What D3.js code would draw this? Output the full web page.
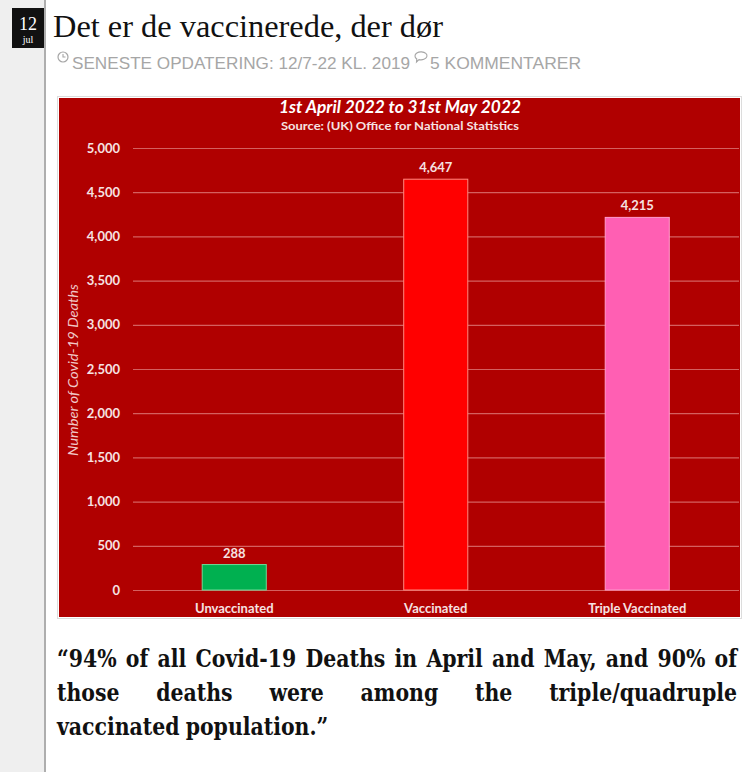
<!DOCTYPE html>
<html><head><meta charset="utf-8">
<script src="https://cdn.jsdelivr.net/npm/d3@7/dist/d3.min.js"></script>
<style>
html,body{margin:0;padding:0;background:#fff;}
svg{display:block;}
</style></head>
<body>
<svg id="page" width="750" height="772"></svg>
<script>
// ---- data ----
const categories = ["Unvaccinated", "Vaccinated", "Triple Vaccinated"];
const deaths = [288, 4647, 4215];
const yTicks = [0, 500, 1000, 1500, 2000, 2500, 3000, 3500, 4000, 4500, 5000];
const chartTitle = "1st April 2022 to 31st May 2022";
const chartSubtitle = "Source: (UK) Office for National Statistics";
const yLabel = "Number of Covid-19 Deaths";
const postDay = "12", postMonth = "jul";
const postTitle = "Det er de vaccinerede, der dør";
const metaUpdate = "SENESTE OPDATERING: 12/7-22 KL. 2019";
const metaComments = "5 KOMMENTARER";
const quoteLines = [
  "“94% of all Covid-19 Deaths in April and May, and 90% of",
  "those deaths were among the triple/quadruple",
  "vaccinated population.”"
];

const svg = d3.select("#page");

// ---- page frame ----
svg.append("rect").attr("x",0).attr("y",0).attr("width",44).attr("height",772).attr("fill","#efefef");
svg.append("line").attr("x1",45).attr("x2",45).attr("y1",0).attr("y2",772).attr("stroke","#9a9a9a").attr("stroke-width",1.6);
svg.append("rect").attr("x",12).attr("y",8).attr("width",32).attr("height",40).attr("fill","#111");
svg.append("text").attr("x",28).attr("y",30).attr("text-anchor","middle")
  .attr("font-family","Liberation Serif, serif").attr("font-size",18).attr("fill","#fff").text(postDay);
svg.append("text").attr("x",28).attr("y",43).attr("text-anchor","middle")
  .attr("font-family","Liberation Serif, serif").attr("font-size",10).attr("fill","#fff").text(postMonth);

svg.append("text").attr("x",53).attr("y",37)
  .attr("font-family","Liberation Serif, Times New Roman, serif").attr("font-size",32).attr("fill","#111")
  .attr("textLength",390).attr("lengthAdjust","spacingAndGlyphs").text(postTitle);

// meta line
const metaCol = "#a6a6a6";
const clock = svg.append("g").attr("transform","translate(63,57)");
clock.append("circle").attr("r",5).attr("fill","none").attr("stroke",metaCol).attr("stroke-width",1.2);
clock.append("path").attr("d","M0,-3V0H2.5").attr("fill","none").attr("stroke",metaCol).attr("stroke-width",1.1);
svg.append("text").attr("x",72).attr("y",69)
  .attr("font-family","Liberation Sans Narrow, Arial Narrow, Liberation Sans, sans-serif").attr("font-size",17)
  .attr("fill",metaCol).attr("textLength",338).attr("lengthAdjust","spacingAndGlyphs").text(metaUpdate);
svg.append("path").attr("transform","translate(421,56)")
  .attr("d","M-6,0a6,4 0 1,1 4,3.6l-2.5,2.4l0.3,-3A6,4 0 0,1 -6,0Z")
  .attr("fill","none").attr("stroke",metaCol).attr("stroke-width",1.1);
svg.append("text").attr("x",430).attr("y",69)
  .attr("font-family","Liberation Sans Narrow, Arial Narrow, Liberation Sans, sans-serif").attr("font-size",17)
  .attr("fill",metaCol).attr("textLength",151).attr("lengthAdjust","spacingAndGlyphs").text(metaComments);

// ---- chart ----
svg.append("rect").attr("x",57.5).attr("y",96.5).attr("width",684).attr("height",522)
  .attr("fill","#fff").attr("stroke","#dcdcdc");
svg.append("rect").attr("x",59).attr("y",98).attr("width",681).attr("height",519).attr("fill","#b00000");

const txtCol = "#f6e2e2";
const chartFont = "Lato, Open Sans, sans-serif";

const x = d3.scaleBand().domain(categories).range([133.5, 738]).paddingInner(0.682).paddingOuter(0.341);
const y = d3.scaleLinear().domain([0, 5000]).range([590, 148]);

const yAxis = svg.append("g").attr("transform","translate(133,0)")
  .call(d3.axisLeft(y).tickValues(yTicks).tickFormat(d3.format(",")).tickSize(-606).tickPadding(13));
yAxis.select(".domain").remove();
yAxis.selectAll(".tick line").attr("stroke","#d4605f").attr("stroke-width",1.2);
yAxis.selectAll(".tick text").attr("fill",txtCol).attr("font-family",chartFont)
  .attr("font-weight","bold").attr("font-size",13);

const barFill = d3.scaleOrdinal().domain(categories).range(["#00b050","#ff0000","#ff5fb3"]);
const barStroke = d3.scaleOrdinal().domain(categories).range(["#6fd896","#ff8a80","#ff9ccf"]);

const bars = svg.append("g");
bars.selectAll("rect").data(categories).join("rect")
  .attr("x", d => x(d)).attr("width", x.bandwidth())
  .attr("y", (d,i) => y(deaths[i])).attr("height", (d,i) => y(0) - y(deaths[i]))
  .attr("fill", d => barFill(d)).attr("stroke", d => barStroke(d)).attr("stroke-width",1);

bars.selectAll("text.val").data(categories).join("text").attr("class","val")
  .attr("x", d => x(d) + x.bandwidth()/2).attr("y", (d,i) => y(deaths[i]) - 7)
  .attr("text-anchor","middle").attr("fill",txtCol).attr("font-family",chartFont)
  .attr("font-weight","bold").attr("font-size",13)
  .text((d,i) => d3.format(",")(deaths[i]));

svg.append("g").selectAll("text").data(categories).join("text")
  .attr("x", d => x(d) + x.bandwidth()/2).attr("y", 613)
  .attr("text-anchor","middle").attr("fill",txtCol).attr("font-family",chartFont)
  .attr("font-weight","bold").attr("font-size",13).text(d => d);

svg.append("text").attr("x",400).attr("y",113).attr("text-anchor","middle")
  .attr("fill","#fff").attr("font-family",chartFont).attr("font-weight","bold").attr("font-style","italic")
  .attr("font-size",16.5).attr("textLength",242).attr("lengthAdjust","spacingAndGlyphs").text(chartTitle);
svg.append("text").attr("x",400).attr("y",130).attr("text-anchor","middle")
  .attr("fill",txtCol).attr("font-family",chartFont).attr("font-weight","bold")
  .attr("font-size",11.5).attr("textLength",238).attr("lengthAdjust","spacingAndGlyphs").text(chartSubtitle);

svg.append("text").attr("transform","translate(78,370) rotate(-90)").attr("text-anchor","middle")
  .attr("fill","#f0c8c8").attr("font-family",chartFont).attr("font-style","italic")
  .attr("font-size",12.5).attr("textLength",172).attr("lengthAdjust","spacingAndGlyphs").text(yLabel);

// ---- quote ----
const qFont = "DejaVu Serif, serif";
const qLeft = 57, qRight = 737, qBase = [667, 701, 735];
const qSize = 23.5;
const qScaleX = 0.87;
quoteLines.forEach((line, li) => {
  const g = svg.append("g").attr("transform", `translate(${qLeft},0) scale(${qScaleX},1)`);
  const words = line.split(" ");
  const nodes = words.map(w => g.append("text").attr("y", qBase[li])
    .attr("font-family",qFont).attr("font-weight","bold").attr("font-size",qSize).attr("fill","#111").text(w));
  const widths = nodes.map(n => n.node().getComputedTextLength());
  const total = d3.sum(widths);
  const avail = (qRight - qLeft) / qScaleX;
  const justify = li < quoteLines.length - 1;
  const space = justify ? Math.max(5, (avail - total) / (words.length - 1)) : 7;
  let cx = 0;
  nodes.forEach((n, i) => { n.attr("x", cx); cx += widths[i] + space; });
});
</script>
</body></html>
